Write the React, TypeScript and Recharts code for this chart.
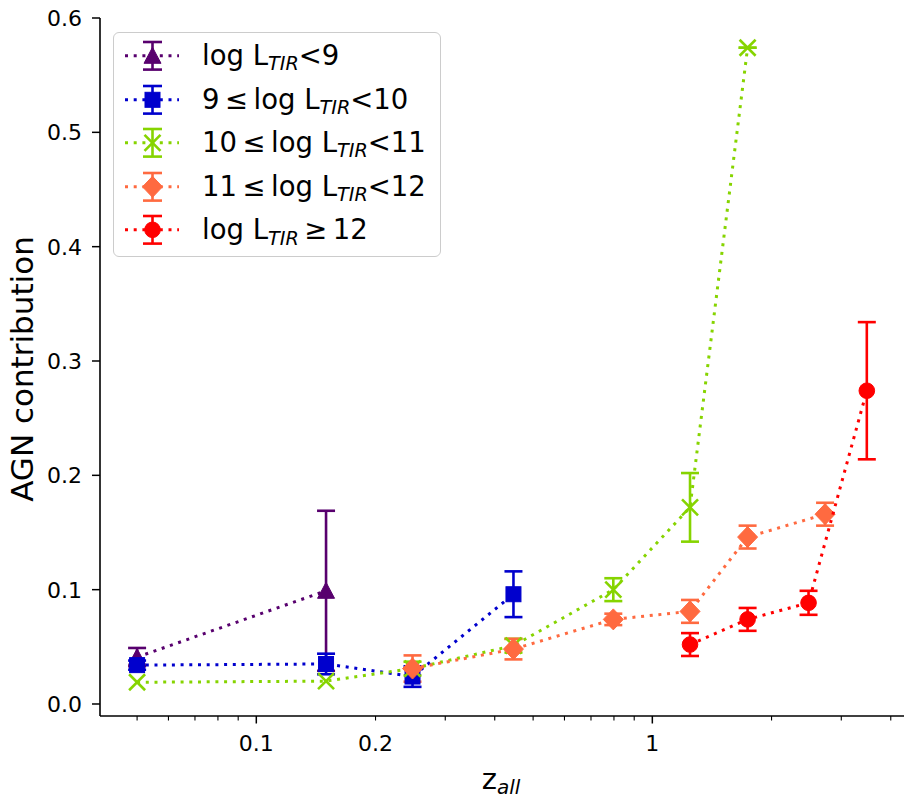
import React from "react";
import { ScatterChart, Scatter, XAxis, YAxis, ErrorBar, Legend, Label } from "recharts";

const FONT = '"DejaVu Sans", sans-serif';

// redshift bins per L_TIR bin, AGN contribution and its error
const Z_LT9 = [0.05, 0.15];
const AGN_LT9 = [0.041, 0.099];
const ERR_LT9 = [0.008, 0.07];

const Z_9_10 = [0.05, 0.15, 0.248, 0.446];
const AGN_9_10 = [0.034, 0.035, 0.024, 0.096];
const ERR_9_10 = [0.004, 0.009, 0.009, 0.02];

const Z_10_11 = [0.05, 0.15, 0.248, 0.446, 0.797, 1.245, 1.74];
const AGN_10_11 = [0.019, 0.02, 0.031, 0.051, 0.1, 0.172, 0.574];
const ERR_10_11 = [null, null, 0.006, 0.006, 0.01, 0.03, [0, 0]];

const Z_11_12 = [0.248, 0.446, 0.797, 1.245, 1.74, 2.73];
const AGN_11_12 = [0.031, 0.048, 0.074, 0.081, 0.146, 0.166];
const ERR_11_12 = [0.0115, 0.009, 0.005, 0.01, 0.01, 0.01];

const Z_GE12 = [1.245, 1.74, 2.48, 3.48];
const AGN_GE12 = [0.052, 0.074, 0.0885, 0.274];
const ERR_GE12 = [0.01, 0.01, 0.0105, 0.06];

const X_TICKS = [0.05, 0.06, 0.07, 0.08, 0.09, 0.1, 0.2, 0.3, 0.4, 0.5, 0.6, 0.7, 0.8, 0.9, 1, 2, 3, 4];
const X_MAJOR = [0.1, 1];
const X_LABELS: Record<string, string> = { "0.1": "0.1", "0.2": "0.2", "1": "1" };
const Y_TICKS = [0, 0.1, 0.2, 0.3, 0.4, 0.5, 0.6];

type Kind = "triangle" | "square" | "x" | "diamond" | "circle";

const toPoints = (z: number[], v: number[], e: any[]) =>
  z.map((zz, i) => ({ z: zz, agn: v[i], err: e[i] }));

const SERIES: { key: string; data: any[]; color: string; kind: Kind; label: [string, string, string] }[] = [
  { key: "lt9", data: toPoints(Z_LT9, AGN_LT9, ERR_LT9), color: "#58006e", kind: "triangle", label: ["log L", "TIR", "<9"] },
  { key: "9_10", data: toPoints(Z_9_10, AGN_9_10, ERR_9_10), color: "#0000cd", kind: "square", label: ["9\u2009≤\u2009log L", "TIR", "<10"] },
  { key: "10_11", data: toPoints(Z_10_11, AGN_10_11, ERR_10_11), color: "#86d400", kind: "x", label: ["10\u2009≤\u2009log L", "TIR", "<11"] },
  { key: "11_12", data: toPoints(Z_11_12, AGN_11_12, ERR_11_12), color: "#ff6a40", kind: "diamond", label: ["11\u2009≤\u2009log L", "TIR", "<12"] },
  { key: "ge12", data: toPoints(Z_GE12, AGN_GE12, ERR_GE12), color: "#ff0000", kind: "circle", label: ["log L", "TIR", "\u2009≥\u200912"] },
];

const DOTTED = { strokeWidth: 3, strokeDasharray: "3 5.7" };

function marker(kind: Kind, cx: number, cy: number, color: string) {
  switch (kind) {
    case "triangle":
      return <polygon points={`${cx},${cy - 8.5} ${cx - 8.5},${cy + 7.5} ${cx + 8.5},${cy + 7.5}`} fill={color} stroke={color} strokeWidth={1} />;
    case "square":
      return <rect x={cx - 7.5} y={cy - 7.5} width={15} height={15} fill={color} stroke={color} strokeWidth={1} />;
    case "diamond":
      return <polygon points={`${cx},${cy - 10.5} ${cx + 10},${cy} ${cx},${cy + 10.5} ${cx - 10},${cy}`} fill={color} stroke={color} strokeWidth={1} />;
    case "circle":
      return <circle cx={cx} cy={cy} r={7.8} fill={color} stroke={color} strokeWidth={1} />;
    case "x":
      return (
        <g stroke={color} strokeWidth={2.6}>
          <line x1={cx - 8} y1={cy - 8} x2={cx + 8} y2={cy + 8} />
          <line x1={cx - 8} y1={cy + 8} x2={cx + 8} y2={cy - 8} />
        </g>
      );
  }
}

function XTick(props: any) {
  const { x, y, payload } = props;
  const v = payload.value;
  const major = X_MAJOR.includes(v);
  const lbl = X_LABELS[String(v)];
  return (
    <g>
      <line x1={x} x2={x} y1={y} y2={y + (major ? 7.5 : 4.5)} stroke="#000" strokeWidth={major ? 1.5 : 1.1} />
      {lbl && (
        <text x={x} y={y + 35} textAnchor="middle" fontSize={22} fontFamily={FONT} fill="#000">
          {lbl}
        </text>
      )}
    </g>
  );
}

function YTick(props: any) {
  const { x, y, payload } = props;
  return (
    <g>
      <line x1={x - 8} x2={x} y1={y} y2={y} stroke="#000" strokeWidth={1.5} />
      <text x={x - 18} y={y} dy="0.36em" textAnchor="end" fontSize={22} fontFamily={FONT} fill="#000">
        {payload.value.toFixed(1)}
      </text>
    </g>
  );
}

function LegendBox() {
  return (
    <div
      style={{
        boxSizing: "border-box",
        width: 328,
        height: 225,
        padding: "1px 0 6px 0",
        border: "1.5px solid #cccccc",
        borderRadius: 6,
        background: "rgba(255,255,255,0.8)",
        fontFamily: FONT,
        fontSize: 27.5,
        color: "#000",
      }}
    >
      {SERIES.map((s) => (
        <div key={s.key} style={{ display: "flex", alignItems: "center", height: 43.6 }}>
          <svg width={88} height={43.6} style={{ flex: "none" }}>
            <line x1={11} x2={65} y1={21.8} y2={21.8} stroke={s.color} {...DOTTED} />
            <g stroke={s.color} strokeWidth={2.6}>
              <line x1={38.5} x2={38.5} y1={8} y2={35.6} />
              <line x1={29} x2={48} y1={8} y2={8} />
              <line x1={29} x2={48} y1={35.6} y2={35.6} />
            </g>
            {marker(s.kind, 38.5, 21.8, s.color)}
          </svg>
          <span style={{ lineHeight: 1, whiteSpace: "nowrap" }}>
            {s.label[0]}
            <span style={{ fontSize: "0.7em", fontStyle: "italic", position: "relative", top: "0.27em" }}>{s.label[1]}</span>
            {s.label[2]}
          </span>
        </div>
      ))}
    </div>
  );
}

export default function App() {
  return (
    <div style={{ position: "absolute", left: 0, top: 0, background: "#fff" }}>
      <ScatterChart width={920} height={798} margin={{ top: 18, right: 16, bottom: 0, left: 0 }}>
        <XAxis
          type="number"
          dataKey="z"
          scale="log"
          domain={[0.0403, 4.32]}
          allowDataOverflow
          ticks={X_TICKS}
          interval={0}
          tick={<XTick />}
          tickLine={false}
          tickSize={0}
          tickMargin={0}
          height={82}
          axisLine={{ stroke: "#000", strokeWidth: 1.6 }}
        >
          <Label
            content={() => (
              <text x={501} y={789} textAnchor="middle" fontSize={29} fontFamily={FONT} fill="#000">
                z
                <tspan fontSize={20} fontStyle="italic" dy={5}>
                  all
                </tspan>
              </text>
            )}
          />
        </XAxis>
        <XAxis
          xAxisId="top"
          orientation="top"
          type="number"
          scale="log"
          domain={[0.0403, 4.32]}
          allowDataOverflow
          height={0}
          tick={false}
          tickLine={false}
          axisLine={{ stroke: "#000", strokeWidth: 1.6 }}
        />
        <YAxis
          type="number"
          dataKey="agn"
          domain={[-0.0105, 0.6]}
          allowDataOverflow
          ticks={Y_TICKS}
          interval={0}
          tick={<YTick />}
          tickLine={false}
          tickSize={0}
          tickMargin={0}
          width={100}
          axisLine={{ stroke: "#000", strokeWidth: 1.6 }}
        >
          <Label
            content={() => (
              <text x={33} y={369} transform="rotate(-90 33 369)" textAnchor="middle" fontSize={31} fontFamily={FONT} fill="#000">
                AGN contribution
              </text>
            )}
          />
        </YAxis>
        <YAxis
          yAxisId="right"
          orientation="right"
          type="number"
          domain={[-0.0105, 0.6]}
          allowDataOverflow
          width={0}
          tick={false}
          tickLine={false}
          axisLine={{ stroke: "#000", strokeWidth: 1.6 }}
        />
        <Legend
          layout="vertical"
          align="center"
          verticalAlign="middle"
          content={() => <LegendBox />}
          wrapperStyle={{ left: 113, top: 32, width: 328, height: 225 }}
        />
        {SERIES.map((s) => (
          <Scatter
            key={s.key}
            name={s.key}
            data={s.data}
            fill={s.color}
            line={{ stroke: s.color, ...DOTTED }}
            isAnimationActive={false}
            shape={(p: any) => marker(s.kind, p.cx, p.cy, s.color)}
          >
            <ErrorBar dataKey="err" direction="y" width={9} stroke={s.color} strokeWidth={2.6} isAnimationActive={false} />
          </Scatter>
        ))}
      </ScatterChart>
    </div>
  );
}
